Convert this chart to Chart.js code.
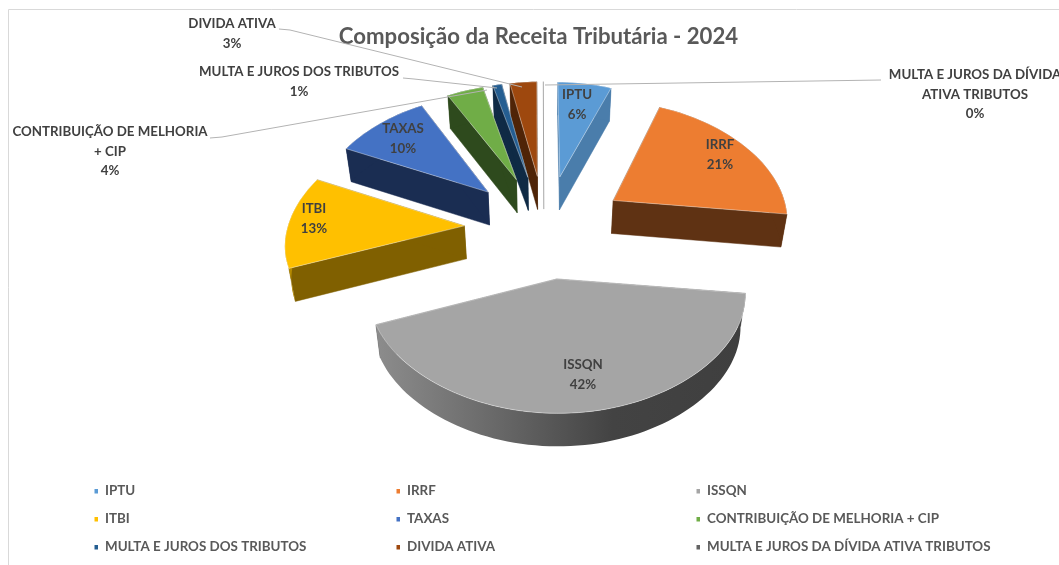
<!DOCTYPE html>
<html><head><meta charset="utf-8">
<style>html,body{margin:0;padding:0;background:#fff}canvas{display:block}</style>
<script src="https://cdn.jsdelivr.net/npm/chart.js@4"></script>
</head><body><canvas id="c" width="1059" height="565"></canvas>
<script>
const categories = ['IPTU','IRRF','ISSQN','ITBI','TAXAS','CONTRIBUIÇÃO DE MELHORIA + CIP','MULTA E JUROS DOS TRIBUTOS','DIVIDA ATIVA','MULTA E JUROS DA DÍVIDA ATIVA TRIBUTOS'];
const shares = [6,21,42,13,10,4,1,3,0.2];
const legendColors = ['#5b9bd5','#ed7d31','#a5a5a5','#ffc000','#4472c4','#70ad47','#255e91','#9e480e','#636363'];
const topColors = ['#5b9bd5','#ed7d31','#a5a5a5','#ffc000','#4472c4','#70ad47','#255e91','#9e480e','#ffffff'];
const wallColors = ['#4a7dab','#5f3213','#555555','#806000','#1a2d52','#2e4a1d','#0f2a45','#4f2407','#ffffff'];
const rimColors = ['#4a7dab','#5f3213','#555555','#b58a00','#1a2d52','#2e4a1d','#0f2a45','#4f2407','#ffffff'];
// label layout: centre x, first line y, wrapped lines of the name
const labelLayout = [
 {x:577,y:95,lines:['IPTU']},
 {x:720,y:145,lines:['IRRF']},
 {x:583,y:365,lines:['ISSQN']},
 {x:314,y:209,lines:['ITBI']},
 {x:403,y:129,lines:['TAXAS']},
 {x:110,y:132,lines:['CONTRIBUIÇÃO DE MELHORIA','+ CIP']},
 {x:299,y:72,lines:['MULTA E JUROS DOS TRIBUTOS']},
 {x:232,y:24,lines:['DIVIDA ATIVA']},
 {x:975,y:75,lines:['MULTA E JUROS DA DÍVIDA','ATIVA TRIBUTOS']}
];
const leaders = [
 null,null,null,null,null,
 [[210,138],[222,137],[487,90]],
 [[403,78],[414,79],[497,88]],
 [[279,29],[290,30],[522,87]],
 [[881,80],[545,85]]
];
const legendCols = [96,398,698];
const legendRows = [491,519,547];

const CX=545.5, CY=227, R0=165, DEPTH=33, SHRINK=0.975;
const FONT='Lato, Carlito, sans-serif';

// ground-plane point (right, away from viewer) to screen
function project(X,Y){
  const f=1.07-0.00085*Y;
  const g=Y>0 ? 0.70-0.0004*Y : 0.68+1.65e-6*Y*Y;
  return [CX+X*f, CY-Y*g];
}
function slicePoints(el,off){
  const a0=el.startAngle+Math.PI/2, a1=el.endAngle+Math.PI/2, mid=(a0+a1)/2;
  const ox=off*Math.sin(mid), oy=off*Math.cos(mid);
  const rim=[], n=Math.max(2,Math.ceil((a1-a0)/(Math.PI/90)));
  for(let i=0;i<=n;i++){const t=a0+(a1-a0)*i/n; rim.push(project(ox+R0*Math.sin(t),oy+R0*Math.cos(t)));}
  return {apex:project(ox,oy),rim};
}
const lower=p=>[CX+(p[0]-CX)*SHRINK,p[1]+DEPTH];
function poly(ctx,pts){ctx.beginPath();pts.forEach((p,i)=>i?ctx.lineTo(p[0],p[1]):ctx.moveTo(p[0],p[1]));ctx.closePath();}

const pie3d={
 id:'pie3d',
 beforeDraw(chart){
  const ctx=chart.ctx;ctx.save();ctx.strokeStyle='#d9d9d9';ctx.lineWidth=1;
  ctx.beginPath();ctx.moveTo(8.5,565);ctx.lineTo(8.5,9.5);ctx.lineTo(1059,9.5);ctx.stroke();ctx.restore();
 },
 beforeDatasetsDraw(chart){
  const ctx=chart.ctx, meta=chart.getDatasetMeta(0), ds=chart.data.datasets[0];
  const items=meta.data.map((el,i)=>({i,...slicePoints(el,ds.offset)}));
  items.sort((a,b)=>a.apex[1]-b.apex[1]);
  ctx.save();
  for(const {i,apex,rim} of items){
    const top=[apex,...rim];
    if(i===8){
      poly(ctx,top);ctx.fillStyle=topColors[i];ctx.fill();
      ctx.strokeStyle='#a6a6a6';ctx.lineWidth=1;
      const l=rim[0];ctx.beginPath();ctx.moveTo(l[0],l[1]);ctx.lineTo(l[0]+0.5,apex[1]+DEPTH);ctx.stroke();
      continue;
    }
    const cuts=[[apex,rim[0]],[apex,rim[rim.length-1]]];
    ctx.fillStyle=wallColors[i];ctx.strokeStyle=wallColors[i];ctx.lineWidth=0.5;
    for(const [p,q] of cuts){poly(ctx,[p,q,lower(q),lower(p)]);ctx.fill();ctx.stroke();}
    let rimFill=rimColors[i];
    if(i===2){const g=ctx.createLinearGradient(377,0,740,0);
      g.addColorStop(0,'#8c8c8c');g.addColorStop(0.35,'#666666');g.addColorStop(0.65,'#434343');g.addColorStop(1,'#3f3f3f');rimFill=g;}
    poly(ctx,[...rim,...rim.map(lower).reverse()]);ctx.fillStyle=rimFill;ctx.fill();
    poly(ctx,top);ctx.fillStyle=topColors[i];ctx.fill();
    ctx.strokeStyle='rgba(255,255,255,0.55)';ctx.lineWidth=0.7;ctx.stroke();
  }
  ctx.restore();
  return false;
 },
 afterDraw(chart){
  const ctx=chart.ctx,total=shares.reduce((a,b)=>a+b,0);
  ctx.save();
  ctx.strokeStyle='#b3b3b3';ctx.lineWidth=1;
  leaders.forEach(l=>{if(!l)return;ctx.beginPath();l.forEach((p,k)=>k?ctx.lineTo(p[0],p[1]):ctx.moveTo(p[0],p[1]));ctx.stroke();});
  ctx.fillStyle='#404040';ctx.textAlign='center';ctx.textBaseline='middle';ctx.font='bold 13.3px '+FONT;
  labelLayout.forEach((L,i)=>{
    const t=[...L.lines,Math.round(shares[i]/total*100)+'%'];
    t.forEach((s,k)=>ctx.fillText(s,L.x,L.y+k*19.5));
  });
  ctx.textAlign='left';ctx.font='bold 13.4px '+FONT;
  categories.forEach((c,i)=>{
    const x=legendCols[i%3],y=legendRows[Math.floor(i/3)];
    ctx.fillStyle=legendColors[i];ctx.fillRect(x-1.5,y-2,3.5,4.5);
    ctx.fillStyle='#595959';ctx.fillText(c,x+9,y);
  });
  ctx.restore();
 }
};

new Chart(document.getElementById('c'),{
 type:'pie',
 plugins:[pie3d],
 data:{labels:categories,datasets:[{data:shares,backgroundColor:legendColors,offset:76,borderWidth:0}]},
 options:{
  responsive:false,animation:false,
  layout:{padding:{left:18}},
  plugins:{
   legend:{display:false},tooltip:{enabled:false},
   title:{display:true,text:'Composição da Receita Tributária - 2024',color:'#595959',
    font:{family:FONT,size:22.2,weight:'bold'},padding:{top:24,bottom:10}}
  }
 }
});
</script></body></html>
